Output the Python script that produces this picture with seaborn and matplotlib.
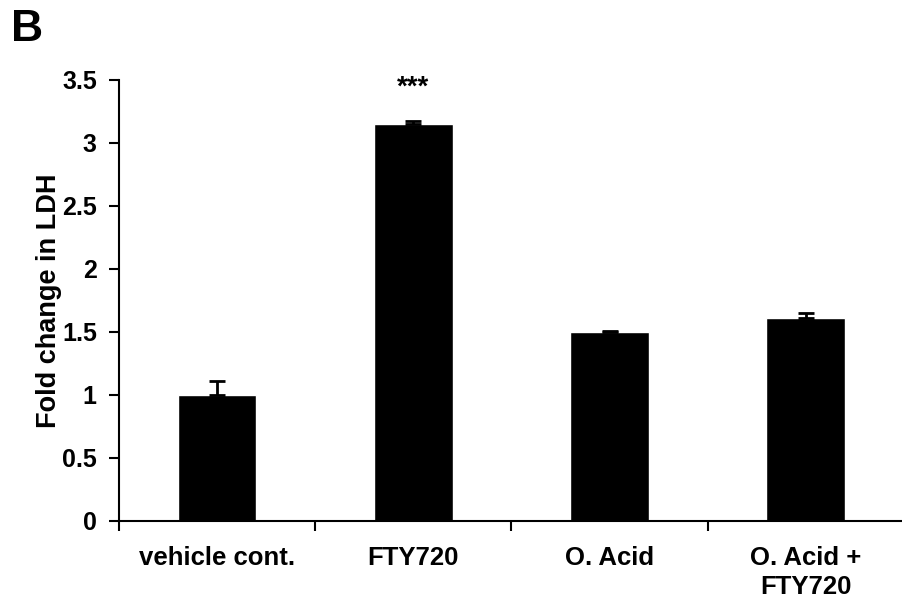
import matplotlib
matplotlib.use("Agg")
import matplotlib.pyplot as plt
import seaborn as sns
import pandas as pd
import numpy as np
from matplotlib.ticker import FixedLocator

categories = ["vehicle cont.", "FTY720", "O. Acid", "O. Acid +\nFTY720"]
means = [1.00, 3.15, 1.50, 1.61]
sems = [0.11, 0.02, 0.01, 0.04]
yticks = [0, 0.5, 1, 1.5, 2, 2.5, 3, 3.5]
ytick_labels = ["0", "0.5", "1", "1.5", "2", "2.5", "3", "3.5"]

sns.set_style("white")
plt.rcParams["font.family"] = ["Liberation Sans", "DejaVu Sans"]
plt.rcParams["font.weight"] = "bold"
plt.rcParams["text.color"] = "black"
plt.rcParams["axes.labelcolor"] = "black"
plt.rcParams["xtick.color"] = "black"
plt.rcParams["ytick.color"] = "black"

df = pd.DataFrame({"group": categories, "ldh": means})

fig = plt.figure(figsize=(9.02, 6.0), dpi=100)
ax = fig.add_axes([0.132, 0.132, 0.870, 0.735])

sns.barplot(data=df, x="group", y="ldh", order=categories, color="black",
            width=0.4, errorbar=None, ax=ax, saturation=1)

x = np.arange(len(categories))
ax.errorbar(x, means, yerr=[np.zeros(len(sems)), sems], fmt="none",
            ecolor="black", elinewidth=2, capsize=6, capthick=2)

ax.text(1, 3.44, "***", ha="center", va="center", fontsize=20, fontweight="bold")

ax.set_xlim(-0.5, 3.5)
ax.set_ylim(0, 3.5)
ax.set_yticks(yticks)
ax.set_yticklabels(ytick_labels, fontsize=18, fontweight="bold")
ax.set_xticks(x)
ax.set_xticklabels(categories, fontsize=18.5, fontweight="bold", linespacing=1.3)
ax.tick_params(axis="x", which="major", length=0, pad=18)
ax.xaxis.set_minor_locator(FixedLocator([-0.5, 0.5, 1.5, 2.5]))
ax.tick_params(axis="x", which="minor", bottom=True, length=7, width=1.5,
               direction="out", color="black")
ax.tick_params(axis="y", left=True, length=7, width=1.5, direction="out",
               color="black", pad=9)

for s in ["top", "right"]:
    ax.spines[s].set_visible(False)
for s in ["left", "bottom"]:
    ax.spines[s].set_color("black")
    ax.spines[s].set_linewidth(1.5)

ax.set_xlabel("")
ax.set_ylabel("Fold change in LDH", fontsize=19.5, fontweight="bold", labelpad=0)

fig.text(0.012, 0.985, "B", fontsize=32, fontweight="bold", va="top", ha="left")

fig.savefig("out.png", dpi=100)
